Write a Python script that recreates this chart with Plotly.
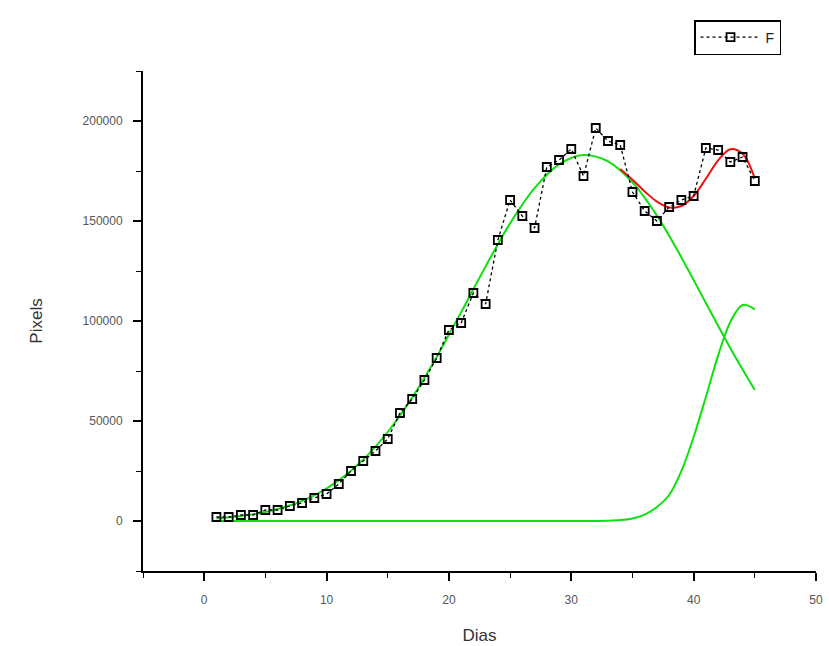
import plotly.graph_objects as go

# Measured data (Dias vs Pixels)
dias = list(range(1, 46))
pixels = [2000, 2000, 3000, 3000, 5500, 5500, 7500, 9000, 11500, 13500,
          18500, 25000, 30000, 35000, 41000, 54000, 61000, 70500, 81500, 95500,
          99000, 114000, 108500, 140500, 160500, 152500, 146500, 177000, 180500, 186000,
          172500, 196500, 190000, 188000, 164500, 155000, 150000, 157000, 160500, 162500,
          186500, 185500, 179500, 182000, 170000]

# Fitted peak 1 (green)
fit1_x = [1, 3, 5, 7, 9, 11, 13, 15, 17, 19, 21, 23, 25, 27, 29, 31, 33, 35, 37, 39, 41, 43, 45]
fit1_y = [1300, 2500, 4500, 7800, 12800, 20300, 30700, 44500, 61700, 82000, 104400, 127300,
          148800, 166400, 178300, 183000, 179800, 169300, 152700, 131800, 109000, 86400, 65500]

# Fitted peak 2 (green)
fit2_x = [1, 10, 20, 30, 33, 34, 35, 36, 37, 38, 39, 40, 41, 42, 43, 44, 45]
fit2_y = [0, 0, 0, 0, 150, 470, 1300, 3200, 7000, 13000, 25000, 42000, 62000, 82700, 99500, 108000, 105800]

# Cumulative fit (red)
sum_x = [34, 35, 36, 37, 38, 39, 40, 41, 42, 43, 44, 45]
sum_y = [176000, 170600, 164800, 159700, 156800, 157500, 162500, 171100, 180300, 185900, 183600, 171300]

x_ticks = [0, 10, 20, 30, 40, 50]
y_ticks = [0, 50000, 100000, 150000, 200000]
y_ticktext = ["0", "50000", "100000", "150000", "200000"]

GREEN = "#10e010"
fig = go.Figure()
fig.add_trace(go.Scatter(x=fit1_x, y=fit1_y, mode="lines", line=dict(color=GREEN, width=2, shape="spline"),
                         showlegend=False, hoverinfo="skip"))
fig.add_trace(go.Scatter(x=fit2_x, y=fit2_y, mode="lines", line=dict(color=GREEN, width=2, shape="spline"),
                         showlegend=False, hoverinfo="skip"))
fig.add_trace(go.Scatter(x=sum_x, y=sum_y, mode="lines", line=dict(color="#ee1111", width=2, shape="spline"),
                         showlegend=False, hoverinfo="skip"))
fig.add_trace(go.Scatter(x=dias, y=pixels, mode="lines+markers", name="F",
                         line=dict(color="black", width=1.3, dash="dot"),
                         marker=dict(symbol="square-open", size=8, color="black", line=dict(width=1.8))))

axis_font = dict(family="Liberation Sans, Arial", size=12, color="#555555")
fig.update_layout(
    width=829, height=646,
    margin=dict(l=143, r=13, t=71, b=75),
    paper_bgcolor="white", plot_bgcolor="white",
    showlegend=True,
    legend=dict(x=0.948, y=1.102, xanchor="right", yanchor="top",
                bordercolor="black", borderwidth=1.5, bgcolor="white",
                font=dict(family="Liberation Sans, Arial", size=14, color="#222222"),
                itemwidth=60),
    xaxis=dict(range=[-5, 50], tickvals=x_ticks, showline=True, linecolor="black", linewidth=2,
               ticks="outside", ticklen=8, tickwidth=1.5, tickcolor="black",
               minor=dict(dtick=5, tick0=0, ticks="outside", ticklen=5, tickcolor="black", tickwidth=1),
               showgrid=False, zeroline=False, tickfont=axis_font, ticklabelstandoff=9,
               ticklabeloverflow="allow", automargin=False,
               title=dict(text="Dias", font=dict(family="Liberation Sans, Arial", size=17, color="#333333"), standoff=23)),
    yaxis=dict(range=[-25000, 225000], tickvals=y_ticks, ticktext=y_ticktext, showline=True,
               linecolor="black", linewidth=2,
               ticks="outside", ticklen=8, tickwidth=1.5, tickcolor="black",
               minor=dict(dtick=25000, tick0=0, ticks="outside", ticklen=5, tickcolor="black", tickwidth=1),
               showgrid=False, zeroline=False, tickfont=axis_font, ticklabelstandoff=8,
               automargin=False,
               title=dict(text="Pixels", font=dict(family="Liberation Sans, Arial", size=17, color="#333333"), standoff=36)),
)

fig.write_html("out.html", config={"displayModeBar": False},
               post_script="document.body.style.margin='0';document.body.style.overflow='hidden';")
